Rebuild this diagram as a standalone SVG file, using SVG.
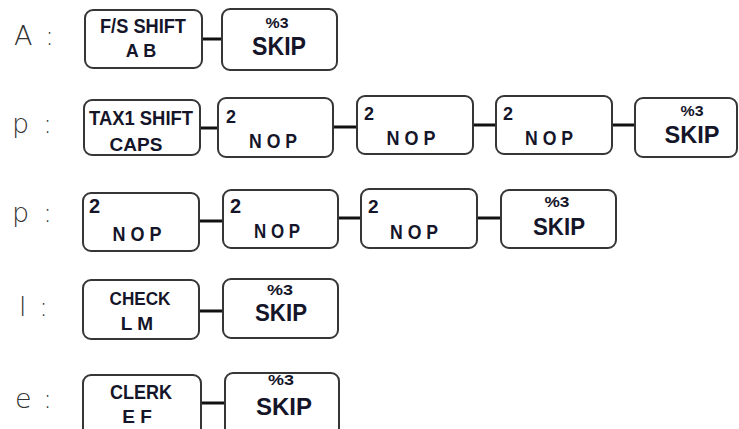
<svg xmlns="http://www.w3.org/2000/svg" width="739" height="429" viewBox="0 0 739 429">
<style>
.box{fill:#fff;stroke:#363636;stroke-width:2}
.conn{stroke:#111;stroke-width:3;fill:none}
.t{font-family:"Liberation Sans",Arial,sans-serif;font-weight:bold;fill:#15152a;text-anchor:middle}
.n{font-family:"Liberation Sans",Arial,sans-serif;font-weight:bold;fill:#15152a}
.lbl{font-family:"DejaVu Sans",sans-serif;font-weight:200;font-size:27px;fill:#333}
</style>
<rect width="739" height="429" fill="#fff"/>
<g id="labels">
<text class="lbl" x="14 33 45" y="45">A :</text>
<text class="lbl" x="12 31 43" y="133">p :</text>
<text class="lbl" x="12 31 43" y="222">p :</text>
<text class="lbl" x="19 33 39" y="316">l :</text>
<text class="lbl" x="15 31 43" y="408">e :</text>
</g>
<g id="connectors">
<line class="conn" x1="202" y1="39" x2="222" y2="39"/>
<line class="conn" x1="200" y1="128" x2="218" y2="128"/>
<line class="conn" x1="333" y1="127" x2="357" y2="127"/>
<line class="conn" x1="473" y1="125" x2="496" y2="125"/>
<line class="conn" x1="612" y1="125" x2="635" y2="125"/>
<line class="conn" x1="199" y1="221" x2="223" y2="221"/>
<line class="conn" x1="338" y1="218" x2="361" y2="218"/>
<line class="conn" x1="477" y1="218" x2="501" y2="218"/>
<line class="conn" x1="199" y1="311" x2="223" y2="311"/>
<line class="conn" x1="201" y1="403" x2="225" y2="403"/>
</g>
<g id="a1"><rect class="box" x="85" y="10" width="117" height="58" rx="8"/>
<text class="t" x="143" y="33" font-size="20" textLength="86" lengthAdjust="spacingAndGlyphs">F/S SHIFT</text>
<text class="t" x="141" y="57" font-size="18">A B</text></g>
<g id="a2"><rect class="box" x="222" y="9" width="115" height="61" rx="8"/>
<text class="t" x="277" y="28" font-size="15" textLength="23" lengthAdjust="spacingAndGlyphs">%3</text>
<text class="t" x="279" y="55" font-size="25" textLength="54" lengthAdjust="spacingAndGlyphs">SKIP</text></g>

<g id="p1"><rect class="box" x="84" y="100" width="116" height="55" rx="8"/>
<text class="t" x="141" y="125" font-size="20" textLength="104" lengthAdjust="spacingAndGlyphs">TAX1  SHIFT</text>
<text class="t" x="136" y="151" font-size="19">CAPS</text></g>
<g id="p2"><rect class="box" x="218" y="98" width="115" height="59" rx="8"/>
<text class="n" x="226" y="123" font-size="18">2</text>
<text class="t" x="273" y="148" font-size="20" textLength="48" lengthAdjust="spacingAndGlyphs">N O P</text></g>
<g id="p3"><rect class="box" x="357" y="96" width="116" height="58" rx="8"/>
<text class="n" x="364" y="120" font-size="18">2</text>
<text class="t" x="411" y="145" font-size="20" textLength="49" lengthAdjust="spacingAndGlyphs">N O P</text></g>
<g id="p4"><rect class="box" x="496" y="96" width="116" height="58" rx="8"/>
<text class="n" x="503" y="120" font-size="18">2</text>
<text class="t" x="549" y="145" font-size="20" textLength="48" lengthAdjust="spacingAndGlyphs">N O P</text></g>
<g id="p5"><rect class="box" x="635" y="98" width="102" height="59" rx="8"/>
<text class="t" x="692" y="116" font-size="15" textLength="23" lengthAdjust="spacingAndGlyphs">%3</text>
<text class="t" x="692" y="143" font-size="24" textLength="55" lengthAdjust="spacingAndGlyphs">SKIP</text></g>

<g id="q1"><rect class="box" x="83" y="193" width="116" height="58" rx="8"/>
<text class="n" x="89" y="213" font-size="20">2</text>
<text class="t" x="137" y="241" font-size="20" textLength="49" lengthAdjust="spacingAndGlyphs">N O P</text></g>
<g id="q2"><rect class="box" x="223" y="190" width="115" height="58" rx="8"/>
<text class="n" x="230" y="213" font-size="20">2</text>
<text class="t" x="277" y="238" font-size="20" textLength="46" lengthAdjust="spacingAndGlyphs">N O P</text></g>
<g id="q3"><rect class="box" x="361" y="189" width="116" height="59" rx="8"/>
<text class="n" x="368" y="213" font-size="19">2</text>
<text class="t" x="414" y="239" font-size="20" textLength="48" lengthAdjust="spacingAndGlyphs">N O P</text></g>
<g id="q4"><rect class="box" x="501" y="190" width="115" height="58" rx="8"/>
<text class="t" x="557" y="207" font-size="15" textLength="25" lengthAdjust="spacingAndGlyphs">%3</text>
<text class="t" x="559" y="235" font-size="23" textLength="52" lengthAdjust="spacingAndGlyphs">SKIP</text></g>

<g id="l1"><rect class="box" x="83" y="280" width="116" height="59" rx="8"/>
<text class="t" x="140" y="305" font-size="19" textLength="61" lengthAdjust="spacingAndGlyphs">CHECK</text>
<text class="t" x="137" y="330" font-size="19">L M</text></g>
<g id="l2"><rect class="box" x="223" y="279" width="115" height="59" rx="8"/>
<text class="t" x="280" y="295" font-size="15" textLength="26" lengthAdjust="spacingAndGlyphs">%3</text>
<text class="t" x="281" y="321" font-size="23" textLength="52" lengthAdjust="spacingAndGlyphs">SKIP</text></g>

<g id="e1"><rect class="box" x="83" y="375" width="118" height="62" rx="8"/>
<text class="t" x="141" y="399" font-size="20" textLength="62" lengthAdjust="spacingAndGlyphs">CLERK</text>
<text class="t" x="137" y="423" font-size="19">E F</text></g>
<g id="e2"><rect class="box" x="225" y="373" width="114" height="64" rx="8"/>
<text class="t" x="281" y="385" font-size="15" textLength="26" lengthAdjust="spacingAndGlyphs">%3</text>
<text class="t" x="284" y="415" font-size="24" textLength="56" lengthAdjust="spacingAndGlyphs">SKIP</text></g>
</svg>
